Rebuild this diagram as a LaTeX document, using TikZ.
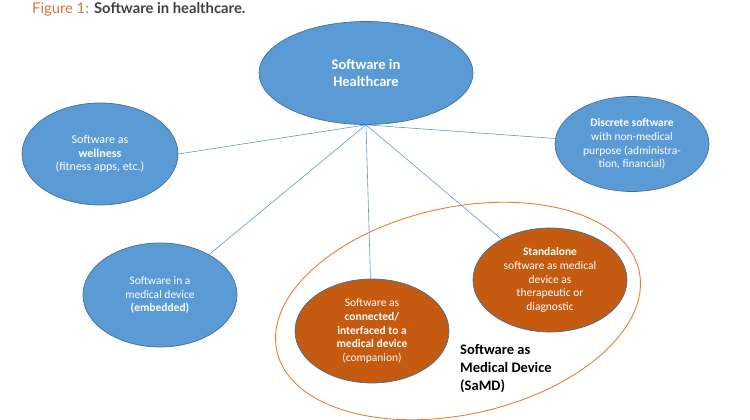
\documentclass[tikz,border=0pt]{standalone}
\usepackage{fontspec}
\setmainfont{Carlito}
\newfontfamily\titlefont{Lato}
\usetikzlibrary{shapes.geometric, positioning}
\definecolor{officeblue}{HTML}{5B9BD5}
\definecolor{blueborder}{HTML}{41719C}
\definecolor{samdfill}{HTML}{C55A11}
\definecolor{samdline}{HTML}{ED7D31}
\definecolor{figorange}{HTML}{D9733F}
\definecolor{titlegray}{HTML}{3F3F3F}

\begin{document}
\begin{tikzpicture}[
	x=1pt, y=-1pt,
	% Styles
	bubble/.style={ellipse, draw=blueborder, line width=0.7pt, inner sep=0pt, align=center, text=white, font=\fontsize{11.5}{13.6}\selectfont},
	bluebubble/.style={bubble, fill=officeblue, minimum width=154pt, minimum height=103pt},
	samdbubble/.style={bubble, fill=samdfill, minimum width=154pt, minimum height=104pt},
	link/.style={officeblue, line width=0.6pt},
	samdring/.style={ellipse, draw=samdline, line width=0.9pt, inner sep=0pt, minimum width=371pt, minimum height=207pt},
	samdlabel/.style={font=\bfseries\fontsize{14.5}{18}\selectfont, text=black, align=left}
	]
	\useasboundingbox (0,0) rectangle (750,420);
	
	% ==========================================
	% Title
	% ==========================================
	\node[anchor=base west, inner sep=0pt] (title) at (32,13.5) {\titlefont\fontsize{14.8}{17}\selectfont\color{figorange}Figure 1: \color{titlegray}\bfseries Software in healthcare.};
	
	% ==========================================
	% Central node and the blue categories
	% ==========================================
	\node[bluebubble, minimum width=214pt, minimum height=103pt, font=\bfseries\fontsize{14.5}{17.7}\selectfont] (healthcare) at (366,73) {Software in\\Healthcare};
	\coordinate (hub) at (healthcare.south);
	
	\node[bluebubble, minimum width=156pt, minimum height=102pt, font=\fontsize{12}{13.5}\selectfont] (wellness) at (100,154) {Software as\\\textbf{wellness}\\(fitness apps, etc.)};
	\node[bluebubble, minimum height=95pt] (discrete) at (632,144) {\textbf{Discrete software}\\with non-medical\\purpose (administra-\\tion, financial)};
	\node[bluebubble, minimum height=104pt] (embedded) at (160,295) {Software in a\\medical device\\\textbf{(embedded)}};
	
	% ==========================================
	% Software as Medical Device (SaMD)
	% ==========================================
	\node[samdbubble] (companion) at (372,331) {Software as\\\textbf{connected/}\\\textbf{interfaced to a}\\\textbf{medical device}\\(companion)};
	\node[samdbubble] (standalone) at (550,280) {\textbf{Standalone}\\software as medical\\device as\\therapeutic or\\diagnostic};
	
	\node[samdring, rotate=12.5] (samd) at (458,311) {};
	\node[samdlabel, anchor=west, inner sep=0pt] (samdtext) at (460,369) {Software as\\Medical Device\\(SaMD)};
	
	% Connectors from the hub
	\draw[link] (hub) -- (wellness.east);
	\draw[link] (hub) -- (discrete);
	\draw[link] (hub) -- (embedded);
	\draw[link] (hub) -- (companion);
	\draw[link] (hub) -- (standalone);
	
\end{tikzpicture}
\end{document}
